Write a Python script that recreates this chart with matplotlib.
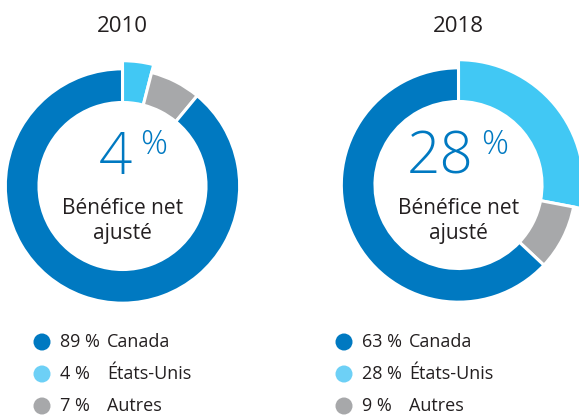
import matplotlib
matplotlib.use('Agg')
import matplotlib.pyplot as plt

# ----- data -----
years = ['2010', '2018']
regions = ['Canada', 'États-Unis', 'Autres']
shares_2010 = [89, 4, 7]
shares_2018 = [63, 28, 9]
center_label = 'Bénéfice net\najusté'

colors = ['#0079C1', '#41C8F4', '#A7A8AA']
legend_colors = ['#0079C1', '#6DD0F6', '#A7A8AA']
text_color = '#231F20'

plt.rcParams['font.family'] = ['Open Sans', 'DejaVu Sans']

W, H = 579, 415
fig = plt.figure(figsize=(W / 100, H / 100), dpi=100)

# overlay axes in pixel coords for texts / legend
ov = fig.add_axes([0, 0, 1, 1], zorder=5)
ov.set_xlim(0, W)
ov.set_ylim(H, 0)
ov.axis('off')
ov.patch.set_alpha(0)

R_PX = 116.0  # ring outer radius in pixels
LIM = 1.1

def donut(cx, cy, shares):
    size = 2 * LIM * R_PX
    ax = fig.add_axes([(cx - size / 2) / W, 1 - (cy + size / 2) / H, size / W, size / H])
    # draw clockwise from 12 o'clock: États-Unis, Autres, Canada
    order = [1, 2, 0]
    vals = [shares[i] for i in order]
    cols = [colors[i] for i in order]
    wedges, _ = ax.pie(vals, colors=cols, startangle=90, counterclock=False,
                       radius=1.01,
                       wedgeprops=dict(width=0.29, edgecolor='white', linewidth=2.2))
    # highlighted US slice sticks out
    wedges[0].set_radius(1.08)
    wedges[0].set_width(0.36)
    ax.set_xlim(-LIM, LIM)
    ax.set_ylim(-LIM, LIM)
    ax.set_aspect('equal')
    ax.axis('off')
    return ax

centers = [(122.5, 186), (458.5, 185)]
all_shares = [shares_2010, shares_2018]
leg_x = [42, 344]

for (cx, cy), yr, sh, lx in zip(centers, years, all_shares, leg_x):
    donut(cx, cy, sh)
    ov.text(cx, 27, yr, ha='center', va='center', fontsize=16, color=text_color)
    # big number
    num = str(sh[1])
    off = 10 if len(num) == 1 else 15
    ov.text(cx + off, 158, num, ha='right', va='center', fontsize=42,
            fontweight='light', color=colors[0])
    ov.text(cx + off + 8, 145, '%', ha='left', va='center', fontsize=24,
            fontweight='light', color=colors[0])
    ov.text(cx, 221, center_label, ha='center', va='center', fontsize=15,
            color=text_color, linespacing=1.3)
    # legend
    rows_y = [342, 374, 406]
    for i, y in enumerate(rows_y):
        ov.scatter([lx], [y], s=150, color=legend_colors[i], edgecolors='none')
        ov.text(lx + 18, y, f'{sh[i]} %', ha='left', va='center', fontsize=13,
                color=text_color)
        ov.text(lx + 65, y, regions[i], ha='left', va='center', fontsize=13,
                color=text_color)

fig.savefig('out.png', dpi=100, facecolor='white')
